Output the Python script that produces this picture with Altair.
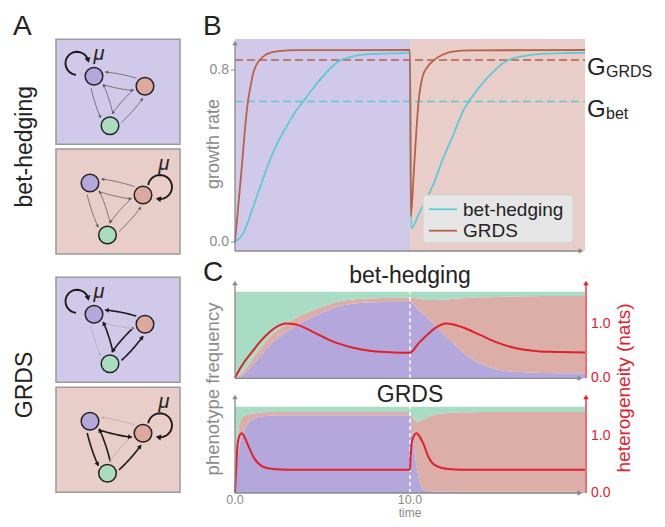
import math
import altair as alt
import pandas as pd

# ------------------------------------------------------------------
# data
# ------------------------------------------------------------------
# panel B: growth rate
bh_t = [0, 0.47, 1.04, 1.5, 1.99, 2.45, 2.94, 3.4, 3.89, 4.84, 6.07, 7.68, 9.77, 10,
        10.07, 10.53, 11.29, 11.9, 12.43, 13.1, 13.5, 14.33, 15.46, 16.5, 17.5, 19, 20]
bh_g = [0, 0.04, 0.164, 0.27, 0.381, 0.465, 0.536, 0.6, 0.653, 0.753, 0.847, 0.874, 0.88, 0.881,
        0.064, 0.135, 0.26, 0.39, 0.49, 0.62, 0.67, 0.755, 0.84, 0.865, 0.875, 0.879, 0.88]
grds_t = [0, 0.2, 0.4, 0.6, 0.74, 0.9, 1.04, 1.2, 1.42, 1.7, 1.99, 2.5, 3.5, 10,
          10.05, 10.2, 10.35, 10.49, 10.72, 11.0, 11.38, 11.9, 12.42, 13.5, 20]
grds_g = [0, 0.18, 0.36, 0.55, 0.653, 0.73, 0.785, 0.82, 0.847, 0.868, 0.88, 0.888, 0.892, 0.893,
          0.12, 0.3, 0.5, 0.653, 0.77, 0.815, 0.847, 0.872, 0.885, 0.891, 0.893]
g_names = ["GRDS", "bet"]
g_values = [0.847, 0.653]
env_names = ["purple", "pink"]
env_start = [0, 10]
env_end = [10, 20]
b_ticks = [0.0, 0.8]

# panel C (top): bet-hedging phenotype fractions and heterogeneity
c1_t = [0, 0.5, 1, 1.5, 2, 2.5, 3, 3.5, 4, 5, 6, 7, 8, 9, 10,
        10.5, 11, 11.5, 12, 12.5, 13, 14, 15, 16, 17, 18, 19, 20]
c1_purple = [0, .045, .155, .27, .385, .47, .545, .61, .665, .76, .835, .866, .877, .881, .882,
             .79, .695, .595, .49, .40, .30, .17, .10, .075, .065, .06, .057, .055]
c1_pink = [0, .04, .07, .09, .10, .10, .095, .09, .085, .07, .055, .05, .048, .047, .047,
           .13, .21, .31, .42, .52, .625, .765, .84, .87, .883, .89, .893, .895]
c1h_t = [0, 0.25, 0.5, 1, 1.5, 2, 2.5, 2.9, 3.5, 4, 4.8, 5.5, 6.7, 7.5, 8.3, 9, 10,
         10.5, 11, 11.5, 12.05, 12.5, 13, 14, 15, 16, 17, 18, 20]
c1_het = [0, 0.15, 0.28, 0.49, 0.69, 0.85, 0.96, 1.0, 0.98, 0.92, 0.79, 0.68, 0.56, 0.51, 0.48, 0.47, 0.465,
          0.64, 0.8, 0.93, 1.0, 0.98, 0.93, 0.79, 0.65, 0.55, 0.5, 0.48, 0.47]

# panel C (bottom): GRDS
c2_t = [0, 0.1, 0.25, 0.4, 0.6, 0.8, 1.0, 1.3, 1.6, 2, 3, 10,
        10.1, 10.25, 10.45, 10.65, 10.9, 11.2, 11.6, 12, 13, 14, 20]
c2_purple = [0, .30, .55, .67, .76, .82, .855, .878, .89, .896, .90, .90,
             .75, .49, .22, .07, .03, .02, .017, .016, .015, .015, .015]
c2_pink = [0, .15, .25, .20, .14, .09, .065, .05, .045, .042, .04, .04,
           .15, .36, .605, .77, .84, .875, .898, .909, .92, .925, .925]
c2h_t = [0, 0.05, 0.12, 0.2, 0.38, 0.55, 0.8, 1.04, 1.3, 1.6, 2.2, 3, 10,
         10.03, 10.15, 10.38, 10.55, 10.76, 11.04, 11.42, 12.2, 13, 20]
c2_het = [0, 0.3, 0.75, 0.95, 1.05, 0.98, 0.8, 0.64, 0.53, 0.46, 0.42, 0.41, 0.41,
          0.62, 0.95, 1.05, 0.99, 0.87, 0.64, 0.49, 0.42, 0.41, 0.41]
switch_time = [10]
t_ticks = [0.0, 10.0]
het_ticks = [0.0, 1.0]

# panel A: network schematics
box_env = ["purple", "pink", "purple", "pink"]
box_model = ["bet", "bet", "grds", "grds"]
node_names = ["P", "K", "G"]
node_tpl = {
    "purple": {"P": (38, 37), "K": (89, 47), "G": (54, 86.5)},
    "pink": {"P": (34, 34), "K": (87, 46), "G": (51.5, 86)},
}
edge_pairs = [("P", "K"), ("K", "P"), ("P", "G"), ("G", "P"), ("K", "G"), ("G", "K")]
strong_edges = {
    "purple": {("K", "P"), ("G", "P"), ("K", "G"), ("G", "K")},
    "pink": {("P", "K"), ("G", "K"), ("P", "G"), ("G", "P")},
}

# ------------------------------------------------------------------
# styles / layout
# ------------------------------------------------------------------
FONT = "Liberation Sans"
DARK = "#222222"
GRAY = "#8a8a8a"
BG = {"purple": "#d1c9e9", "pink": "#e9cdc8"}
AREA = {"purple": "#b3a7dc", "pink": "#dbaea8", "green": "#a9dcc4"}
NODE = {"P": "#b3a7dc", "K": "#dba99e", "G": "#a9dcc1"}
CYAN = "#5ccad7"
BROWN = "#b7604a"
RED = "#e2202c"

box_x = [56, 56, 56, 56]
box_y = [39.3, 149, 277.3, 387.3]
BOX_W, BOX_H = 124, 105
loop_tpl = {"purple": ((21, 24), 11.5, 95, 345), "pink": ((104, 38), 12, -170, 98)}
mu_tpl = {"purple": (43, 15), "pink": (108, 15)}

ONE = pd.DataFrame({"k": [0]})


def pg(v):
    return v - 8


def lin(dom, rng):
    return alt.Scale(domain=dom, range=[pg(r) for r in rng], nice=False, zero=False)


def XT():
    return lin([0, 20], [235, 585])


def YB():
    return lin([0, 0.8], [242, 70])


def YC1F():
    return lin([0, 1], [378.3, 291.7])


def YC1H():
    return lin([0, 1], [378, 323.5])


def YC2F():
    return lin([0, 1], [493, 406.7])


def YC2H():
    return lin([0, 1], [493, 436])


def XPX():
    return lin([0, 665], [0, 665])


def YPX():
    return lin([0, 527], [0, 527])


def text(s, x, y, size, color=DARK, angle=0, align="center", baseline="alphabetic", italic=False):
    kw = dict(text=s, fontSize=size, font=FONT, color=color, align=align, baseline=baseline)
    if angle:
        kw["angle"] = angle
    if italic:
        kw["fontStyle"] = "italic"
    return alt.Chart(ONE).mark_text(**kw).encode(x=alt.value(pg(x)), y=alt.value(pg(y)))


def vline(x, y1, y2, color, w=1.3):
    return alt.Chart(ONE).mark_rule(color=color, strokeWidth=w).encode(
        x=alt.value(pg(x)), y=alt.value(pg(y1)), y2=alt.value(pg(y2)))


def hline(x1, x2, y, color, w=1.3):
    return alt.Chart(ONE).mark_rule(color=color, strokeWidth=w).encode(
        x=alt.value(pg(x1)), x2=alt.value(pg(x2)), y=alt.value(pg(y)))


def tri(x, y, color, angle=0, size=30):
    kw = dict(shape="triangle-up", filled=True, color=color, size=size, opacity=1, strokeWidth=0)
    if angle:
        kw["angle"] = angle
    return alt.Chart(ONE).mark_point(**kw).encode(x=alt.value(pg(x)), y=alt.value(pg(y)))


layers = []

# ------------------------------------------------------------------
# Panel A
# ------------------------------------------------------------------
box_df = pd.DataFrame({
    "x0": box_x, "y0": box_y,
    "x1": [v + BOX_W for v in box_x], "y1": [v + BOX_H for v in box_y],
    "fill": [BG[e] for e in box_env],
})
layers.append(alt.Chart(box_df).mark_rect(stroke="#9b9b9b", strokeWidth=1.5).encode(
    x=alt.X("x0:Q", scale=XPX(), axis=None), x2="x1:Q",
    y=alt.Y("y0:Q", scale=YPX(), axis=None), y2="y1:Q",
    fill=alt.Fill("fill:N", scale=None)))

EDGE_STYLE = {"thin": ("#5e5e5e", 0.8, 12), "strong": ("#1c1c1c", 1.6, 24), "weak": ("#a9a9a9", 0.7, 7)}
R_EDGE, ANG, BULGE = 12.0, math.radians(32), 8.0

line_rows, head_rows, node_rows, mu_rows = [], [], [], []
eid = 0
for bi in range(4):
    bx, by = box_x[bi], box_y[bi]
    env, model = box_env[bi], box_model[bi]
    pos = {n: (bx + node_tpl[env][n][0], by + node_tpl[env][n][1]) for n in node_names}
    for (s, d) in edge_pairs:
        if model == "bet":
            style = "thin"
        else:
            style = "strong" if (s, d) in strong_edges[env] else "weak"
        col, sw, hs = EDGE_STYLE[style]
        ax, ay = pos[s]
        bx2, by2 = pos[d]
        L = math.hypot(bx2 - ax, by2 - ay)
        ux, uy = (bx2 - ax) / L, (by2 - ay) / L
        nx, ny = -uy, ux
        st = (ax + R_EDGE * (math.cos(ANG) * ux + math.sin(ANG) * nx),
              ay + R_EDGE * (math.cos(ANG) * uy + math.sin(ANG) * ny))
        en = (bx2 + R_EDGE * (-math.cos(ANG) * ux + math.sin(ANG) * nx),
              by2 + R_EDGE * (-math.cos(ANG) * uy + math.sin(ANG) * ny))
        ct = ((ax + bx2) / 2 + nx * BULGE, (ay + by2) / 2 + ny * BULGE)
        for i in range(14):
            q = i / 13
            line_rows.append({
                "x": (1 - q) ** 2 * st[0] + 2 * (1 - q) * q * ct[0] + q ** 2 * en[0],
                "y": (1 - q) ** 2 * st[1] + 2 * (1 - q) * q * ct[1] + q ** 2 * en[1],
                "eid": eid, "i": i, "col": col, "sw": sw})
        tx, ty = en[0] - ct[0], en[1] - ct[1]
        tl = math.hypot(tx, ty)
        tx, ty = tx / tl, ty / tl
        head_rows.append({"x": en[0] - tx * 1.5, "y": en[1] - ty * 1.5,
                          "ang": math.degrees(math.atan2(tx, -ty)) % 360, "col": col, "sz": hs})
        eid += 1
    # self loop
    (cx, cy), r, a0, a1 = loop_tpl[env]
    cx, cy = bx + cx, by + cy
    n_pts = 24
    for i in range(n_pts):
        a = math.radians(a0 + (a1 - a0) * i / (n_pts - 1))
        line_rows.append({"x": cx + r * math.cos(a), "y": cy + r * math.sin(a),
                          "eid": eid, "i": i, "col": "#1c1c1c", "sw": 1.9})
    a = math.radians(a1)
    tx, ty = -math.sin(a), math.cos(a)
    head_rows.append({"x": cx + r * math.cos(a), "y": cy + r * math.sin(a),
                      "ang": math.degrees(math.atan2(tx, -ty)) % 360, "col": "#1c1c1c", "sz": 36})
    eid += 1
    for n in node_names:
        node_rows.append({"x": pos[n][0], "y": pos[n][1], "fill": NODE[n]})
    mu_rows.append({"x": bx + mu_tpl[env][0], "y": by + mu_tpl[env][1]})

layers.append(alt.Chart(pd.DataFrame(line_rows)).mark_line(opacity=1).encode(
    x=alt.X("x:Q", scale=XPX(), axis=None), y=alt.Y("y:Q", scale=YPX(), axis=None),
    detail="eid:N", order="i:Q", color=alt.Color("col:N", scale=None),
    strokeWidth=alt.StrokeWidth("sw:Q", scale=None)))
layers.append(alt.Chart(pd.DataFrame(node_rows)).mark_point(
    shape="circle", filled=True, size=310, stroke=DARK, strokeWidth=1.5, opacity=1).encode(
    x=alt.X("x:Q", scale=XPX(), axis=None), y=alt.Y("y:Q", scale=YPX(), axis=None),
    fill=alt.Fill("fill:N", scale=None)))
layers.append(alt.Chart(pd.DataFrame(head_rows)).mark_point(
    shape="triangle-up", filled=True, opacity=1, strokeWidth=0).encode(
    x=alt.X("x:Q", scale=XPX(), axis=None), y=alt.Y("y:Q", scale=YPX(), axis=None),
    angle=alt.Angle("ang:Q", scale=None), color=alt.Color("col:N", scale=None),
    size=alt.Size("sz:Q", scale=None)))
layers.append(alt.Chart(pd.DataFrame(mu_rows)).mark_text(
    text="μ", fontSize=20, font=FONT, fontStyle="italic", color=DARK, baseline="middle").encode(
    x=alt.X("x:Q", scale=XPX(), axis=None), y=alt.Y("y:Q", scale=YPX(), axis=None)))

layers.append(text("A", 13, 35, 28, align="left"))
layers.append(text("bet-hedging", 25, 146.7, 23, angle=270, baseline="middle"))
layers.append(text("GRDS", 25, 385, 23, angle=270, baseline="middle"))

# ------------------------------------------------------------------
# Panel B
# ------------------------------------------------------------------
env_df = pd.DataFrame({"t0": env_start, "t1": env_end, "fill": [BG[e] for e in env_names]})
layers.append(alt.Chart(env_df).mark_rect().encode(
    x=alt.X("t0:Q", scale=XT(), axis=None), x2="t1:Q",
    y=alt.value(pg(251)), y2=alt.value(pg(39)),
    fill=alt.Fill("fill:N", scale=None)))
g_df = pd.DataFrame({"name": g_names, "G": g_values, "col": [BROWN, CYAN]})
layers.append(alt.Chart(g_df).mark_rule(strokeDash=[8, 4], strokeWidth=1.5).encode(
    x=alt.value(pg(235)), x2=alt.value(pg(585)),
    y=alt.Y("G:Q", scale=YB(), axis=None), color=alt.Color("col:N", scale=None)))
layers.append(alt.Chart(pd.DataFrame({"t": bh_t, "g": bh_g})).mark_line(
    interpolate="monotone", color=CYAN, strokeWidth=1.8).encode(
    x=alt.X("t:Q", scale=XT(), axis=None), y=alt.Y("g:Q", scale=YB(), axis=None)))
layers.append(alt.Chart(pd.DataFrame({"t": grds_t, "g": grds_g})).mark_line(
    interpolate="monotone", color=BROWN, strokeWidth=1.8).encode(
    x=alt.X("t:Q", scale=XT(), axis=None), y=alt.Y("g:Q", scale=YB(), axis=None)))
# G labels
layers.append(alt.Chart(g_df).mark_text(text="G", fontSize=24, font=FONT, color=DARK,
                                         align="left", dy=8).encode(
    x=alt.value(pg(587)), y=alt.Y("G:Q", scale=YB(), axis=None)))
layers.append(alt.Chart(g_df).mark_text(fontSize=16, font=FONT, color=DARK,
                                         align="left", dy=12).encode(
    x=alt.value(pg(606)), y=alt.Y("G:Q", scale=YB(), axis=None), text="name:N"))
# axes
layers.append(vline(235, 251, 44, GRAY))
layers.append(tri(235, 43, GRAY))
layers.append(hline(235, 580, 251, GRAY))
layers.append(tri(581, 251, GRAY, angle=90))
bt_df = pd.DataFrame({"v": b_ticks, "lab": [f"{v:.1f}" for v in b_ticks]})
layers.append(alt.Chart(bt_df).mark_rule(color=GRAY, strokeWidth=1).encode(
    x=alt.value(pg(231)), x2=alt.value(pg(235)), y=alt.Y("v:Q", scale=YB(), axis=None)))
layers.append(alt.Chart(bt_df).mark_text(fontSize=14, font=FONT, color=GRAY, align="right",
                                          baseline="middle").encode(
    x=alt.value(pg(229)), y=alt.Y("v:Q", scale=YB(), axis=None), text="lab:N"))
layers.append(text("growth rate", 214, 144, 18, color=GRAY, angle=270, baseline="middle"))
# legend
layers.append(alt.Chart(ONE).mark_rect(cornerRadius=4, fill="#e6e6e6", stroke="#cfcfcf",
                                       strokeWidth=1).encode(
    x=alt.value(pg(423)), x2=alt.value(pg(573)), y=alt.value(pg(195)), y2=alt.value(pg(243))))
layers.append(hline(429, 457, 209.3, CYAN, w=1.8))
layers.append(hline(429, 457, 230.7, BROWN, w=1.8))
layers.append(text("bet-hedging", 463, 209.5, 19, align="left", baseline="middle"))
layers.append(text("GRDS", 463, 231, 19, align="left", baseline="middle"))
layers.append(text("B", 203, 35, 28, align="left"))


# ------------------------------------------------------------------
# Panel C
# ------------------------------------------------------------------
def stack_df(ts, purple, pink):
    rows = []
    for t, p, k in zip(ts, purple, pink):
        rows.append({"t": t, "f": p, "o": 0, "col": AREA["purple"]})
        rows.append({"t": t, "f": k, "o": 1, "col": AREA["pink"]})
        rows.append({"t": t, "f": 1 - p - k, "o": 2, "col": AREA["green"]})
    return pd.DataFrame(rows)


def panel_c(ts, purple, pink, ht, het, yf, yh, bottom, top, title, title_y):
    out = []
    out.append(alt.Chart(stack_df(ts, purple, pink)).mark_area(interpolate="monotone", opacity=1).encode(
        x=alt.X("t:Q", scale=XT(), axis=None),
        y=alt.Y("f:Q", stack="zero", scale=yf, axis=None),
        color=alt.Color("col:N", scale=None), order=alt.Order("o:Q")))
    sw_df = pd.DataFrame({"t": switch_time, "lo": [0] * len(switch_time), "hi": [1] * len(switch_time)})
    out.append(alt.Chart(sw_df).mark_rule(color="white", strokeDash=[4, 3], strokeWidth=1.5).encode(
        x=alt.X("t:Q", scale=XT(), axis=None),
        y=alt.Y("lo:Q", scale=yf, axis=None), y2="hi:Q"))
    out.append(alt.Chart(pd.DataFrame({"t": ht, "h": het})).mark_line(
        interpolate="monotone", color=RED, strokeWidth=2).encode(
        x=alt.X("t:Q", scale=XT(), axis=None), y=alt.Y("h:Q", scale=yh, axis=None)))
    # axes
    out.append(vline(235, bottom, top + 4, GRAY))
    out.append(tri(235, top + 3, GRAY))
    out.append(hline(235, 579, bottom, GRAY))
    out.append(tri(580, bottom, GRAY, angle=90))
    out.append(vline(586, bottom, top + 4, RED))
    out.append(tri(586, top + 3, RED))
    ht_df = pd.DataFrame({"v": het_ticks, "lab": [f"{v:.1f}" for v in het_ticks]})
    out.append(alt.Chart(ht_df).mark_text(fontSize=14, font=FONT, color=RED, align="left",
                                           baseline="middle").encode(
        x=alt.value(pg(591)), y=alt.Y("v:Q", scale=yh, axis=None), text="lab:N"))
    out.append(text(title, 410, title_y, 23))
    return out


layers += panel_c(c1_t, c1_purple, c1_pink, c1h_t, c1_het, YC1F(), YC1H(), 378.3, 280,
                  "bet-hedging", 283)
layers += panel_c(c2_t, c2_purple, c2_pink, c2h_t, c2_het, YC2F(), YC2H(), 493, 394,
                  "GRDS", 402)

tt_df = pd.DataFrame({"t": t_ticks, "lab": [f"{v:.1f}" for v in t_ticks]})
layers.append(alt.Chart(tt_df).mark_text(fontSize=12.5, font=FONT, color=GRAY).encode(
    x=alt.X("t:Q", scale=XT(), axis=None), y=alt.value(pg(499.5)), text="lab:N"))
layers.append(text("time", 410, 517, 12, color=GRAY))
layers.append(text("phenotype frequency", 213, 389, 18.5, color=GRAY, angle=270, baseline="middle"))
layers.append(text("heterogeneity (nats)", 624, 388, 19, color=RED, angle=270, baseline="middle"))
layers.append(text("C", 203, 281, 28, align="left"))

chart = alt.layer(*layers).resolve_scale(x="independent", y="independent").properties(
    width=649, height=511, padding=0, autosize=alt.AutoSizeParams(type="none")
).configure_view(stroke=None)

chart.save("out.html", embed_options={"renderer": "svg", "actions": False})
